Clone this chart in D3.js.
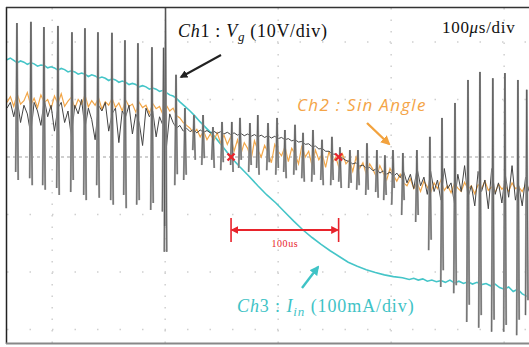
<!DOCTYPE html>
<html>
<head>
<meta charset="utf-8">
<script src="https://cdn.jsdelivr.net/npm/d3@7/dist/d3.min.js"></script>
<style>
body { margin: 0; background: #fff; }
</style>
</head>
<body>
<div id="scope"></div>
<script>
"use strict";

// sample step of the recorded traces, in µs
var DT = 3;

// Ch1 (Vg) slow part, one value every DT µs, in divisions
var ch1Base = [
    0.85,0.95,0.7,1.0,0.6,0.9,0.75,0.4,0.95,0.8,
    0.55,1.0,0.7,0.9,0.45,0.85,0.95,0.6,0.8,0.35,
    0.9,0.75,1.0,0.5,0.85,0.65,0.3,0.9,0.8,0.95,
    0.45,0.75,0.85,0.25,0.8,0.7,0.9,0.4,0.75,0.6,
    0.2,0.85,0.7,0.8,0.35,0.7,0.55,0.15,0.75,0.6,
    0.5,
    0.55,0.45,0.5,0.44,0.48,0.42,0.47,0.43,0.46,0.42,
    0.45,0.41,0.44,0.4,0.43,0.39,0.42,0.38,0.41,0.37,
    0.4,0.36,0.39,0.35,0.38,0.34,0.37,0.33,0.36,0.32,
    0.34,0.3,0.32,0.28,0.3,0.26,0.27,0.22,0.23,0.18,
    0.19,0.14,0.15,0.1,0.1,0.05,0.05,0.0,-0.02,-0.06,
    -0.08,-0.12,-0.1,-0.16,-0.14,-0.2,-0.18,-0.24,-0.2,-0.28,
    -0.24,-0.3,-0.26,-0.34,-0.28,-0.36,
    -0.25,-0.45,-0.3,-0.55,-0.2,-0.5,-0.35,-0.65,-0.25,-0.6,
    -0.4,-0.75,-0.2,-0.55,-0.45,-0.8,-0.3,-0.6,-0.15,-0.7,
    -0.5,-0.85,-0.25,-0.6,-0.4,-0.9,-0.2,-0.65,-0.45,-0.8,
    -0.3,-0.7,-0.15,-0.75,-0.5,-0.85,-0.35,-0.6
];

// Ch1 switching spikes: [time µs, top, low before, low after] (divisions)
var ch1Spikes = [
    [8.8, 2.33, -0.26, -0.4],
    [21.2, 2.35, -0.37, -0.49],
    [32.7, 2.26, -0.49, -0.57],
    [45.1, 2.28, -0.54, -0.66],
    [57.5, 2.17, -0.61, -0.4],
    [69.0, 2.24, -0.66, -0.75],
    [80.5, 2.17, -0.49, -0.71],
    [92.9, 2.16, -0.75, -0.83],
    [104.4, 2.03, -0.66, -0.89],
    [115.9, 1.98, -0.83, -0.75],
    [128.3, 1.91, -0.92, -0.8],
    [138.6, 1.9, -0.95, -1.2],
    [140.3, 2.6, -1.65, -1.65],
    [149.6, 1.43, -0.49, -0.3],
    [157.5, 0.85, -0.4, -0.31],
    [165.5, 0.73, 0.12, -0.05],
    [173.5, 0.73, -0.14, -0.02],
    [182.3, 0.52, -0.05, -0.19],
    [190.3, 0.61, -0.23, -0.09],
    [199.0, 0.61, -0.14, -0.26],
    [206.2, 0.68, -0.19, -0.05],
    [215.0, 0.59, -0.26, -0.14],
    [222.0, 0.73, -0.19, -0.31],
    [231.0, 0.59, -0.23, -0.09],
    [239.0, 0.68, -0.31, -0.19],
    [246.0, 0.47, -0.26, -0.37],
    [254.9, 0.56, -0.31, -0.23],
    [262.0, 0.42, -0.37, -0.43],
    [270.8, 0.47, -0.43, -0.31],
    [278.8, 0.3, -0.4, -0.49],
    [287.6, 0.35, -0.49, -0.4],
    [294.7, 0.17, -0.43, -0.54],
    [303.5, 0.12, -0.54, -0.45],
    [310.6, 0.12, -0.57, -0.49],
    [318.6, 0.24, -0.66, -0.57],
    [327.4, 0.12, -0.61, -0.71],
    [334.5, 0.03, -0.75, -0.66],
    [341.6, 0.12, -0.83, -0.54],
    [350.4, 0.07, -1.01, -0.75],
    [362.8, 0.12, -1.13, -1.01],
    [374.3, 0.35, -1.62, -1.44],
    [385.0, 0.68, -2.26, -1.97],
    [396.5, 0.94, -2.37, -2.23],
    [408.0, 1.34, -2.87, -2.57],
    [418.6, 1.48, -2.97, -2.75],
    [430.0, 1.37, -3.04, -2.83],
    [440.7, 1.46, -3.04, -2.92],
    [452.2, 1.34, -3.1, -2.83],
    [460.0, 1.17, -2.75, -2.49]
];

// Ch2 (sin angle), one value every DT µs, in divisions
var ch2Angle = [
    0.95,1.05,0.88,1.1,0.92,0.98,1.12,0.9,1.02,0.86,
    1.08,0.95,1.0,0.84,1.06,0.93,1.1,0.88,0.97,1.04,
    0.85,1.0,0.92,1.08,0.87,0.98,0.9,1.03,0.83,0.96,
    0.9,1.02,0.86,0.94,0.8,0.99,0.88,0.92,0.78,0.95,
    0.86,0.9,0.76,0.93,0.84,0.88,0.74,0.9,0.8,0.85,
    0.72,
    0.68,0.6,0.55,0.5,0.42,0.48,0.35,0.45,0.3,0.4,
    0.28,0.42,0.25,0.38,0.22,0.35,
    0.1,0.3,0.05,0.25,0.15,-0.05,0.28,0.12,0.0,0.2,
    0.08,-0.1,0.22,0.1,0.02,0.18,-0.08,0.15,0.05,-0.12,
    0.2,0.0,0.1,-0.15,0.12,-0.05,0.05,-0.18,0.1,-0.1,
    0.0,-0.2,0.05,-0.12,
    -0.05,-0.25,0.0,-0.2,-0.1,-0.3,-0.12,-0.22,-0.35,-0.15,
    -0.28,-0.4,-0.2,-0.32,-0.42,-0.3,-0.45,
    -0.5,-0.38,-0.55,-0.45,-0.6,-0.42,-0.52,-0.62,-0.45,-0.55,
    -0.4,-0.58,-0.5,-0.62,-0.46,-0.54,-0.6,-0.44,-0.56,-0.5,
    -0.64,-0.48,-0.55,-0.42,-0.58,-0.52,-0.62,-0.47,-0.56,-0.5,
    -0.6,-0.45,-0.55,-0.52,-0.6,-0.48,-0.55
];

// Ch3 (Iin): [time µs, divisions]
var ch3Current = [
    [0,1.69],[3,1.72],[6,1.68],[9,1.64],[12,1.67],[15,1.65],[18,1.61],[21,1.64],
    [24,1.62],[27,1.58],[30,1.6],[33,1.59],[36,1.55],[39,1.57],[42,1.55],[45,1.51],
    [48,1.54],[51,1.52],[54,1.48],[57,1.5],[60,1.48],[63,1.44],[66,1.46],[69,1.44],
    [72,1.4],[75,1.43],[78,1.41],[81,1.37],[84,1.39],[87,1.37],[90,1.33],[93,1.36],
    [96,1.34],[99,1.3],[102,1.32],[105,1.3],[108,1.26],[111,1.28],[114,1.26],[117,1.22],
    [120,1.24],[123,1.22],[126,1.18],[129,1.2],[132,1.18],[135,1.14],[138,1.16],[141,1.12],
    [144,1.08],[147,1.06],[150,1.02],[153,0.96],[157,0.89],[162,0.8],[166,0.72],[171,0.61],
    [177,0.49],[184,0.35],[191,0.18],[198,0],[206,-0.17],[214,-0.33],[222,-0.5],[230,-0.66],
    [238,-0.8],[246,-0.96],[254,-1.12],[262,-1.27],[270,-1.4],[278,-1.52],[286,-1.63],
    [294,-1.73],[302,-1.83],[310,-1.9],[318,-1.96],[326,-2.01],[334,-2.05],[342,-2.08],
    [350,-2.1],[356,-2.13],[360,-2.11],[364,-2.14],[368,-2.12],[372,-2.16],[376,-2.14],
    [380,-2.17],[384,-2.15],[388,-2.18],[392,-2.14],[396,-2.19],[400,-2.16],[404,-2.2],
    [408,-2.17],[412,-2.21],[416,-2.18],[420,-2.22],[424,-2.2],[428,-2.24],[432,-2.21],
    [436,-2.27],[440,-2.3],[444,-2.26],[448,-2.34],[452,-2.3],[456,-2.38],[460,-2.42],[462,-2.45]
];

// graticule and cursor marks
var gridTimes = [40, 140, 240, 340, 440];
var gridDivs = [2, 1, -1, -2, -3];
var markTimes = [198.3, 293.5];

var w = 529, h = 347;

var svg = d3.select("#scope")
    .append("svg")
    .attr("width", w)
    .attr("height", h)
    .style("display", "block");

svg.append("rect").attr("width", w).attr("height", h).attr("fill", "#fff");

// 100 µs per division horizontally
var x = d3.scaleLinear().domain([0, 462]).range([7, 529]);
var y = d3.scaleLinear().domain([0, 1]).range([157, 99.5]);

var line = d3.line()
    .x(function(d) { return x(d[0]); })
    .y(function(d) { return y(d[1]); });

// grid
svg.selectAll(".vgrid")
    .data(gridTimes)
    .enter().append("line")
    .attr("x1", function(d) { return x(d); })
    .attr("x2", function(d) { return x(d); })
    .attr("y1", 8).attr("y2", 343)
    .attr("stroke", "#cfcfcf")
    .attr("stroke-width", 1.5)
    .attr("stroke-dasharray", "1.5,10");

svg.selectAll(".hgrid")
    .data(gridDivs)
    .enter().append("line")
    .attr("x1", 7).attr("x2", w)
    .attr("y1", function(d) { return y(d); })
    .attr("y2", function(d) { return y(d); })
    .attr("stroke", "#cfcfcf")
    .attr("stroke-width", 1.5)
    .attr("stroke-dasharray", "1.5,21");

svg.append("line")
    .attr("x1", 7).attr("x2", w)
    .attr("y1", y(0)).attr("y2", y(0))
    .attr("stroke", "#a0a0a0")
    .attr("stroke-width", 1.2)
    .attr("stroke-dasharray", "3,3");

// Ch3 current
svg.append("path")
    .attr("d", line(ch3Current))
    .attr("fill", "none")
    .attr("stroke", "#45c5c8")
    .attr("stroke-width", 1.6);

// Ch2 sin angle
var ch2Pts = ch2Angle.map(function(v, i) { return [i * DT, v]; });
svg.append("path")
    .attr("d", line(ch2Pts))
    .attr("fill", "none")
    .attr("stroke", "#f2a648")
    .attr("stroke-width", 1.2);

// Ch1 slow part
var ch1Pts = ch1Base.map(function(v, i) { return [i * DT, v]; });
svg.append("path")
    .attr("d", line(ch1Pts))
    .attr("fill", "none")
    .attr("stroke", "#444")
    .attr("stroke-width", 1);

// Ch1 spikes: light halo then dark core
var spikePath = function(d) {
    return line([[d[0] - 1.1, d[2]], [d[0], d[1]], [d[0] + 1.1, d[3]]]);
};
svg.selectAll(".spikeHalo")
    .data(ch1Spikes)
    .enter().append("path")
    .attr("d", spikePath)
    .attr("fill", "none")
    .attr("stroke", "#a8a8a8")
    .attr("stroke-width", 2);
svg.selectAll(".spikeCore")
    .data(ch1Spikes)
    .enter().append("path")
    .attr("d", spikePath)
    .attr("fill", "none")
    .attr("stroke", "#4a4a4a")
    .attr("stroke-width", 0.7);

// frame
svg.append("line").attr("x1", 6.5).attr("x2", 6.5).attr("y1", 7).attr("y2", 344)
    .attr("stroke", "#222").attr("stroke-width", 1.5);
svg.append("line").attr("x1", 6).attr("x2", w).attr("y1", 7.5).attr("y2", 7.5)
    .attr("stroke", "#333").attr("stroke-width", 1.3);
svg.append("line").attr("x1", 6).attr("x2", w).attr("y1", 343.5).attr("y2", 343.5)
    .attr("stroke", "#888").attr("stroke-width", 2);

// arrowheads
var defs = svg.append("defs");
var arrowColors = { black: "#222", orange: "#f2a23e", cyan: "#3fc3c6", red: "#e8232b" };
Object.keys(arrowColors).forEach(function(k) {
    defs.append("marker")
        .attr("id", "head-" + k)
        .attr("viewBox", "0 0 10 10")
        .attr("refX", 8).attr("refY", 5)
        .attr("markerWidth", 4).attr("markerHeight", 4)
        .attr("orient", "auto-start-reverse")
        .append("path")
        .attr("d", "M0,0L10,5L0,10z")
        .attr("fill", arrowColors[k]);
});

// red cursor crosses and 100us bracket
var red = arrowColors.red;
markTimes.forEach(function(t) {
    var cx = x(t), cy = y(0);
    svg.append("path")
        .attr("d", "M" + (cx - 3.5) + "," + (cy - 3.5) + "L" + (cx + 3.5) + "," + (cy + 3.5) +
                   "M" + (cx - 3.5) + "," + (cy + 3.5) + "L" + (cx + 3.5) + "," + (cy - 3.5))
        .attr("stroke", red)
        .attr("stroke-width", 2.4);
    svg.append("line")
        .attr("x1", x(t)).attr("x2", x(t))
        .attr("y1", 218).attr("y2", 242)
        .attr("stroke", red)
        .attr("stroke-width", 1.6);
});
svg.append("line")
    .attr("x1", x(markTimes[0]) + 1).attr("x2", x(markTimes[1]) - 1)
    .attr("y1", 230).attr("y2", 230)
    .attr("stroke", red)
    .attr("stroke-width", 2)
    .attr("marker-start", "url(#head-red)")
    .attr("marker-end", "url(#head-red)");
svg.append("text")
    .attr("x", (x(markTimes[0]) + x(markTimes[1])) / 2)
    .attr("y", 247)
    .attr("text-anchor", "middle")
    .style("font-family", "Liberation Serif, serif")
    .style("font-size", "10px")
    .style("letter-spacing", "0.6px")
    .attr("fill", red)
    .text("100us");

// pointer arrows
svg.append("line").attr("x1", 221).attr("y1", 55).attr("x2", 181).attr("y2", 77)
    .attr("stroke", "#222").attr("stroke-width", 2).attr("marker-end", "url(#head-black)");
svg.append("line").attr("x1", 367).attr("y1", 123).attr("x2", 389).attr("y2", 144)
    .attr("stroke", "#f2a23e").attr("stroke-width", 2.4).attr("marker-end", "url(#head-orange)");
svg.append("line").attr("x1", 302).attr("y1", 288).attr("x2", 318).attr("y2", 267)
    .attr("stroke", "#3fc3c6").attr("stroke-width", 2.4).attr("marker-end", "url(#head-cyan)");

// labels
var serif = "Liberation Serif, Times New Roman, serif";

var t1 = svg.append("text").attr("x", 178).attr("y", 37)
    .style("font-family", serif).style("font-size", "18px")
    .style("letter-spacing", "0.7px").attr("fill", "#111");
t1.append("tspan").style("font-style", "italic").text("Ch");
t1.append("tspan").text("1 : ");
t1.append("tspan").style("font-style", "italic").text("V");
t1.append("tspan").style("font-style", "italic").style("font-size", "13px").attr("dy", 4).text("g");
t1.append("tspan").attr("dy", -4).text(" (10V/div)");

var tb = svg.append("text").attr("x", 442).attr("y", 33)
    .style("font-family", serif).style("font-size", "17px")
    .style("letter-spacing", "0.7px").attr("fill", "#111");
tb.append("tspan").text("100");
tb.append("tspan").style("font-style", "italic").text("\u03bc");
tb.append("tspan").text("s/div");

svg.append("text").attr("x", 297).attr("y", 111)
    .style("font-family", "Open Sans, Liberation Sans, sans-serif")
    .style("font-size", "17px")
    .style("font-style", "italic")
    .style("letter-spacing", "1.3px")
    .attr("fill", "#f4a447")
    .text("Ch2 : Sin Angle");

var t3 = svg.append("text").attr("x", 237).attr("y", 312)
    .style("font-family", serif).style("font-size", "18px")
    .style("letter-spacing", "0.9px").attr("fill", "#3fc3c6");
t3.append("tspan").style("font-style", "italic").text("Ch");
t3.append("tspan").text("3 : ");
t3.append("tspan").style("font-style", "italic").text("I");
t3.append("tspan").style("font-style", "italic").style("font-size", "13px").attr("dy", 4).text("in");
t3.append("tspan").attr("dy", -4).text(" (100mA/div)");
</script>
</body>
</html>
